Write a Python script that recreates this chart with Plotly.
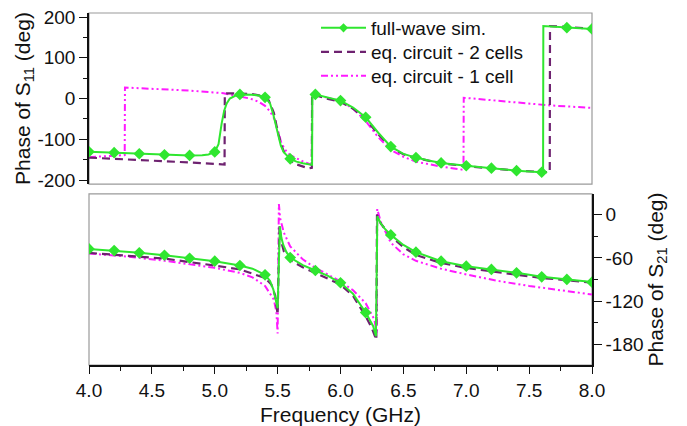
import plotly.graph_objects as go

# ---------------- data ----------------
# Phase of S11, full-wave simulation
f_fw_s11 = [4.0, 4.2, 4.4, 4.6, 4.8, 4.9, 4.95, 5.0, 5.03, 5.055, 5.075, 5.095, 5.12, 5.17, 5.2, 5.3,
            5.36, 5.4, 5.44, 5.467, 5.49, 5.507, 5.525, 5.547, 5.6, 5.65, 5.7, 5.774, 5.776, 5.8, 5.9,
            6.0, 6.1, 6.2, 6.3, 6.4, 6.5, 6.6, 6.7, 6.8, 7.0, 7.2, 7.4, 7.6, 7.611, 7.613, 7.8, 8.0]
fw_s11 = [-130.6, -133, -135.5, -138, -139.6, -139.5, -137.5, -131, -112, -61, -30, -12, 0, 8, 10, 9.5,
          7, 3, -12, -41, -70, -94, -115, -131, -148, -155, -159, -163, 11, 10, 3,
          -5, -22, -46, -84, -118, -136, -145, -152, -158, -165, -171, -177, -181, -181, 178, 174, 171]

# Phase of S11, equivalent circuit - 2 cells
f_c2_s11 = [4.0, 4.3, 4.6, 4.9, 5.078, 5.08, 5.1, 5.2, 5.3, 5.38, 5.43, 5.47, 5.5, 5.53, 5.56, 5.625,
            5.7, 5.745, 5.772, 5.774, 5.8, 5.9, 6.0, 6.1, 6.2, 6.3, 6.4, 6.5, 6.6, 6.8, 7.0, 7.2,
            7.4, 7.6, 7.664, 7.666, 7.8, 8.0]
c2_s11 = [-145, -149, -154, -158.5, -162, 12, 13, 12.5, 11, 6, -5, -35, -80, -115, -138, -159,
          -167, -171.5, -170, 10, 8, -1, -8, -25, -50, -88, -120, -137, -146, -159, -166, -172,
          -177, -180, -181, 178, 176, 171]

# Phase of S11, equivalent circuit - 1 cell
f_c1_s11 = [4.0, 4.15, 4.284, 4.286, 4.5, 4.8, 5.07, 5.2, 5.28, 5.35, 5.4, 5.44, 5.48, 5.53, 5.57, 5.6,
            5.705, 5.772, 5.774, 5.8, 5.9, 6.0, 6.1, 6.2, 6.3, 6.4, 6.5, 6.6, 6.8, 6.9, 6.978, 6.98,
            7.3, 7.67, 8.0]
c1_s11 = [-144, -141.5, -139, 27, 24, 19.5, 13, 5, 0, -8, -18, -32, -53, -110, -130, -139,
          -155, -163, 11, 9, 2, -6, -25, -55, -95, -126, -143, -155, -167, -171, -175, 2,
          -7, -17, -23]

# Phase of S21, full-wave simulation
f_fw_s21 = [4.0, 4.2, 4.4, 4.6, 4.8, 5.0, 5.2, 5.3, 5.4, 5.44, 5.466, 5.485, 5.5, 5.518, 5.53, 5.545,
            5.57, 5.6, 5.7, 5.8, 5.9, 6.0, 6.1, 6.2, 6.24, 6.26, 6.282, 6.293, 6.32, 6.35, 6.4, 6.5,
            6.6, 6.8, 7.0, 7.2, 7.4, 7.6, 7.8, 8.0]
fw_s21 = [-47.5, -49.8, -53, -56.3, -60.5, -64.6, -70.6, -75, -83.5, -92, -104, -118, -130, -16, -32, -42,
          -52, -59.5, -70, -77.5, -85, -94.6, -110, -136, -148, -155, -169, -2, -12, -19, -28, -42,
          -52, -64.6, -71.5, -76, -80.8, -86.3, -90, -93.7]

# Phase of S21, equivalent circuit - 2 cells
f_c2_s21 = [4.0, 4.3, 4.6, 5.0, 5.2, 5.4, 5.45, 5.48, 5.5, 5.515, 5.53, 5.55, 5.6, 5.7, 5.8, 5.9,
            6.0, 6.1, 6.2, 6.25, 6.285, 6.29, 6.32, 6.4, 6.5, 6.6, 6.8, 7.0, 7.2, 7.4, 7.6, 7.8, 8.0]
c2_s21 = [-53, -56.5, -61, -70.6, -76, -88, -97, -112, -139, -16, -38, -51, -63, -73, -81, -88,
          -97, -113, -141, -158, -174, 0, -12, -30, -45, -56, -67, -74, -79, -83, -88, -91, -94.6]

# Phase of S21, equivalent circuit - 1 cell
f_c1_s21 = [4.0, 4.3, 4.6, 5.0, 5.2, 5.3, 5.4, 5.47, 5.49, 5.5, 5.51, 5.52, 5.55, 5.6, 5.7, 5.8,
            5.9, 6.0, 6.1, 6.2, 6.27, 6.288, 6.292, 6.32, 6.4, 6.5, 6.6, 6.8, 7.0, 7.25, 7.5, 7.75, 8.0]
c1_s21 = [-54, -58, -64, -73.8, -80.8, -87, -99, -118, -135, -165, 15, -5, -25, -44, -62, -74,
          -83, -93, -105, -123, -146, -165, 8, -10, -39, -55, -64, -75, -83, -92, -99, -105, -111]

x_ticks = [4.0, 4.5, 5.0, 5.5, 6.0, 6.5, 7.0, 7.5, 8.0]
s11_ticks = [-200, -100, 0, 100, 200]
s21_ticks = [-180, -120, -60, 0]

legend_names = ["full-wave sim.", "eq. circuit - 2 cells", "eq. circuit - 1 cell"]

# ---------------- styling ----------------
GREEN = "#2fe62f"
PURPLE = "#6e2270"
MAGENTA = "#ff1aff"
FONT = "Liberation Sans, Arial, sans-serif"
DASH2 = "8px,5px"
DASH1 = "7px,3px,2px,3px,2px,3px"


def on_grid(xs, ys):
    mx, my = [], []
    for a, b in zip(xs, ys):
        if abs(a * 5 - round(a * 5)) < 1e-9:
            mx.append(a)
            my.append(b)
    return mx, my


def hyph(vals, fmt="{:g}"):
    return [fmt.format(v).replace("\u2212", "-") for v in vals]


fig = go.Figure()

# top panel (S11)
fig.add_trace(go.Scatter(x=f_c1_s11, y=c1_s11, mode="lines", showlegend=False,
                         line=dict(color=MAGENTA, width=2, dash=DASH1), xaxis="x", yaxis="y"))
fig.add_trace(go.Scatter(x=f_c2_s11, y=c2_s11, mode="lines", showlegend=False,
                         line=dict(color=PURPLE, width=2.2, dash=DASH2), xaxis="x", yaxis="y"))
fig.add_trace(go.Scatter(x=f_fw_s11, y=fw_s11, mode="lines", showlegend=False,
                         line=dict(color=GREEN, width=2), xaxis="x", yaxis="y"))
mx, my = on_grid(f_fw_s11, fw_s11)
fig.add_trace(go.Scatter(x=mx, y=my, mode="markers", showlegend=False,
                         marker=dict(color=GREEN, symbol="diamond", size=9), xaxis="x", yaxis="y"))

# bottom panel (S21)
fig.add_trace(go.Scatter(x=f_c1_s21, y=c1_s21, mode="lines", showlegend=False,
                         line=dict(color=MAGENTA, width=2, dash=DASH1), xaxis="x2", yaxis="y2"))
fig.add_trace(go.Scatter(x=f_c2_s21, y=c2_s21, mode="lines", showlegend=False,
                         line=dict(color=PURPLE, width=2.2, dash=DASH2), xaxis="x2", yaxis="y2"))
fig.add_trace(go.Scatter(x=f_fw_s21, y=fw_s21, mode="lines", showlegend=False,
                         line=dict(color=GREEN, width=2), xaxis="x2", yaxis="y2"))
mx2, my2 = on_grid(f_fw_s21, fw_s21)
fig.add_trace(go.Scatter(x=mx2, y=my2, mode="markers", showlegend=False,
                         marker=dict(color=GREEN, symbol="diamond", size=9), xaxis="x2", yaxis="y2"))

# legend entries (one legend per entry for exact spacing)
fig.add_trace(go.Scatter(x=[None], y=[None], mode="lines+markers", name=legend_names[0],
                         line=dict(color=GREEN, width=2), legend="legend",
                         marker=dict(color=GREEN, symbol="diamond", size=7), xaxis="x", yaxis="y"))
fig.add_trace(go.Scatter(x=[None], y=[None], mode="lines", name=legend_names[1], legend="legend2",
                         line=dict(color=PURPLE, width=2.2, dash=DASH2), xaxis="x", yaxis="y"))
fig.add_trace(go.Scatter(x=[None], y=[None], mode="lines", name=legend_names[2], legend="legend3",
                         line=dict(color=MAGENTA, width=2, dash=DASH1), xaxis="x", yaxis="y"))

tickfont = dict(family=FONT, size=19, color="#111")
titlefont = dict(family=FONT, size=21, color="#111")
legfont = dict(family=FONT, size=19, color="#111")

PLOT_TOP, PLOT_BOTTOM, PLOT_LEFT, PLOT_RIGHT = 13, 365, 89, 592


def py(pix):
    return (PLOT_BOTTOM - pix) / (PLOT_BOTTOM - PLOT_TOP)


def px(pix):
    return (pix - PLOT_LEFT) / (PLOT_RIGHT - PLOT_LEFT)


leg_common = dict(xanchor="left", yanchor="middle", bgcolor="rgba(0,0,0,0)", font=legfont,
                  itemwidth=45)

fig.update_layout(
    width=687, height=426,
    margin=dict(l=PLOT_LEFT, r=687 - PLOT_RIGHT, t=PLOT_TOP, b=426 - PLOT_BOTTOM, autoexpand=False),
    paper_bgcolor="white", plot_bgcolor="white",
    font=dict(family=FONT, color="#111"),
    legend=dict(x=px(316), y=py(28), **leg_common),
    legend2=dict(x=px(316), y=py(52), **leg_common),
    legend3=dict(x=px(316), y=py(76), **leg_common),
    xaxis=dict(domain=[0, 1], anchor="y", range=[4, 8], showticklabels=False, ticks="",
               showgrid=False, zeroline=False, showline=False, matches="x2", automargin=False),
    yaxis=dict(domain=[0.514, 1], anchor="x", range=[-210, 210], tickmode="array",
               tickvals=s11_ticks, ticktext=hyph(s11_ticks), ticks="outside", ticklen=8,
               tickwidth=1.3, tickcolor="#111", automargin=False,
               minor=dict(tickmode="linear", tick0=-150, dtick=100, ticks="outside", ticklen=4,
                          tickcolor="#111", tickwidth=1.3),
               showgrid=False, zeroline=False, showline=True, linecolor="#111", linewidth=1.5,
               tickfont=tickfont,
               title=dict(text="Phase of S<sub>11</sub> (deg)", font=titlefont, standoff=0)),
    xaxis2=dict(domain=[0, 1], anchor="y2", range=[4, 8], tickmode="array", tickvals=x_ticks,
                ticktext=[f"{v:.1f}" for v in x_ticks], ticks="outside", ticklen=7, tickwidth=1.3,
                tickcolor="#111", automargin=False,
                minor=dict(tickmode="linear", tick0=4.25, dtick=0.5, ticks="outside", ticklen=4,
                           tickcolor="#111", tickwidth=1.3),
                showgrid=False, zeroline=False, showline=True, linecolor="#111", linewidth=1.5,
                tickfont=tickfont,
                title=dict(text="Frequency (GHz)", font=titlefont, standoff=8)),
    yaxis2=dict(domain=[0, 0.486], anchor="x2", side="right", range=[-209, 29], tickmode="array",
                tickvals=s21_ticks, ticktext=hyph(s21_ticks), ticks="outside", ticklen=8,
                tickwidth=1.3, tickcolor="#111", automargin=False,
                minor=dict(tickmode="linear", tick0=-210, dtick=60, ticks="outside", ticklen=4,
                           tickcolor="#111", tickwidth=1.3),
                showgrid=False, zeroline=False, showline=True, linecolor="#111", linewidth=1.5,
                tickfont=tickfont,
                title=dict(text="Phase of S<sub>21</sub> (deg)", font=titlefont, standoff=0)),
)

# light grey panel frames
for xr, yr in (("x domain", "y domain"), ("x2 domain", "y2 domain")):
    fig.add_shape(type="rect", xref=xr, yref=yr, x0=0, x1=1, y0=0, y1=1,
                  line=dict(color="#9a9a9a", width=1.2), layer="below")

fig.write_html("out.html", config={"displayModeBar": False},
               post_script="document.body.style.margin='0';"
                           "document.body.style.overflow='hidden';")
